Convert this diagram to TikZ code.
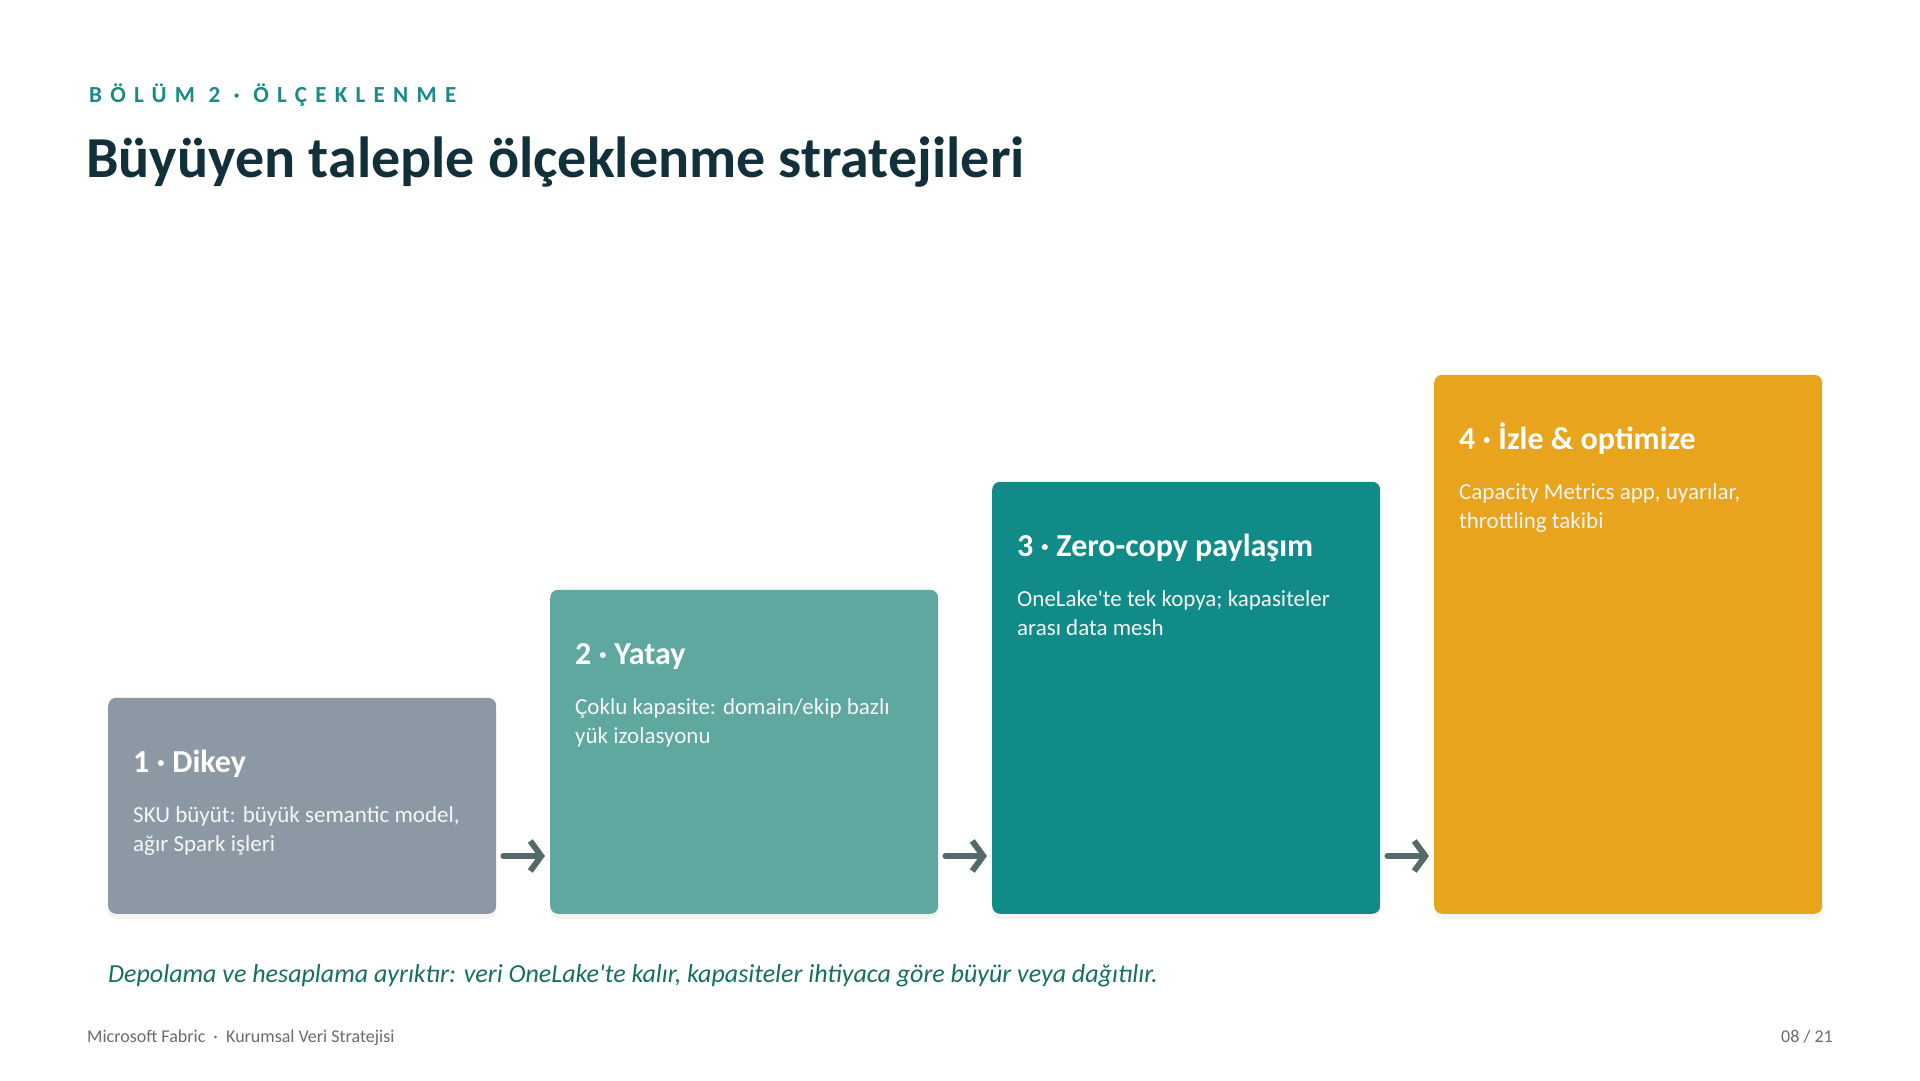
\documentclass[tikz,border=0pt]{standalone}
\usepackage{fontspec}
\setmainfont{Carlito}
\newfontfamily\kickerfont[LetterSpace=36]{Carlito}
\usetikzlibrary{arrows.meta,shadows}

\definecolor{stageone}{HTML}{8C99A4}
\definecolor{stagetwo}{HTML}{5FA89F}
\definecolor{stagethree}{HTML}{108B88}
\definecolor{stagefour}{HTML}{E8A41D}
\definecolor{kicker}{HTML}{1A8A85}
\definecolor{headline}{HTML}{12303A}
\definecolor{arrowgray}{HTML}{56696A}
\definecolor{notegreen}{HTML}{16705F}
\definecolor{footgray}{HTML}{666E70}

\tikzset{
	stage/.style={rectangle, rounded corners=8pt, minimum width=388pt, anchor=south west, inner sep=0pt,
		drop shadow={shadow xshift=0pt, shadow yshift=-5pt, opacity=0.07, fill=black!60}},
	stagetitle/.style={anchor=base west, inner sep=0pt, text=white, font=\fontsize{32}{38}\selectfont\bfseries},
	stagebody/.style={anchor=north west, inner sep=0pt, text=white!92!gray, align=left, font=\fontsize{23}{29}\selectfont},
	flow/.style={-{Straight Barb[length=11pt,width=30pt]}, line width=6pt, line cap=round, line join=round, draw=arrowgray}
}

\begin{document}
\begin{tikzpicture}[x=1pt,y=1pt]
	%page
	\useasboundingbox[fill=white] (0,0) rectangle (1920,1080);

	%header
	\node[anchor=base west, inner sep=0pt, text=kicker, font=\kickerfont\fontsize{23}{28}\selectfont\bfseries] (kick) at (89,977) {BÖLÜM 2 · ÖLÇEKLENME};
	\node[anchor=base west, inner sep=0pt, text=headline, font=\fontsize{58}{66}\selectfont\bfseries] (head) at (86,902) {Büyüyen taleple ölçeklenme stratejileri};

	%stages
	\node[stage, fill=stageone, minimum height=216pt] (dikey) at (108,166) {};
	\node[stagetitle] (dikeyT) at ([shift={(25pt,-75pt)}]dikey.north west) {1 · Dikey};
	\node[stagebody] (dikeyB) at ([shift={(25pt,-109pt)}]dikey.north west) {SKU büyüt: büyük semantic model,\\ağır Spark işleri};

	\node[stage, fill=stagetwo, minimum height=324pt] (yatay) at (550,166) {};
	\node[stagetitle] (yatayT) at ([shift={(25pt,-75pt)}]yatay.north west) {2 · Yatay};
	\node[stagebody] (yatayB) at ([shift={(25pt,-109pt)}]yatay.north west) {Çoklu kapasite: domain/ekip bazlı\\yük izolasyonu};

	\node[stage, fill=stagethree, minimum height=432pt] (zerocopy) at (992,166) {};
	\node[stagetitle] (zerocopyT) at ([shift={(25pt,-75pt)}]zerocopy.north west) {3 · Zero-copy paylaşım};
	\node[stagebody] (zerocopyB) at ([shift={(25pt,-109pt)}]zerocopy.north west) {OneLake\textquotesingle te tek kopya; kapasiteler\\arası data mesh};

	\node[stage, fill=stagefour, minimum height=539pt] (izle) at (1434,166) {};
	\node[stagetitle] (izleT) at ([shift={(25pt,-75pt)}]izle.north west) {4 · İzle \& optimize};
	\node[stagebody] (izleB) at ([shift={(25pt,-109pt)}]izle.north west) {Capacity Metrics app, uyarılar,\\throttling takibi};

	\foreach \a/\b in {dikey/yatay, yatay/zerocopy, zerocopy/izle}{
		\draw[flow] ([xshift=7pt,yshift=58pt]\a.south east) -- ([xshift=-5pt,yshift=58pt]\b.south west);
	}

	%note and footer
	\node[anchor=base west, inner sep=0pt, text=notegreen, font=\fontsize{26}{30}\selectfont\itshape] (note) at (108,98) {Depolama ve hesaplama ayrıktır: veri OneLake\textquotesingle te kalır, kapasiteler ihtiyaca göre büyür veya dağıtılır.};
	\node[anchor=base west, inner sep=0pt, text=footgray, font=\fontsize{18}{22}\selectfont] (foot) at (87,38) {Microsoft Fabric \ · \ Kurumsal Veri Stratejisi};
	\node[anchor=base east, inner sep=0pt, text=footgray, font=\fontsize{18}{22}\selectfont] (page) at (1833,38) {08 / 21};
\end{tikzpicture}
\end{document}
